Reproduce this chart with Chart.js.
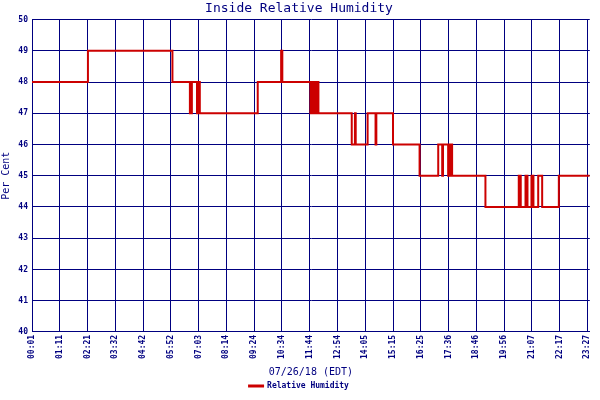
<!DOCTYPE html>
<html>
<head>
<script src="https://cdn.jsdelivr.net/npm/chart.js@4"></script>
<style>
body { margin: 0; background: #fff; }
</style>
</head>
<body>
<canvas id="humidity_chart" width="600" height="400"></canvas>
<script>
// minutes after midnight where the reading changes, and the reading from then on
const changeMinutes = [1, 142, 355, 399, 404, 417, 419, 424, 570, 627, 629, 632, 703, 708, 713, 718, 723,
    807, 815, 817, 847, 867, 869, 911, 978, 1025, 1035, 1037, 1050, 1055, 1060, 1144,
    1228, 1233, 1245, 1250, 1260, 1265, 1277, 1287, 1329, 1407]
const humidity = [48, 49, 48, 47, 48, 47, 48, 47, 48, 48, 49, 48, 47, 48, 47, 48, 47,
    46, 47, 46, 47, 46, 47, 46, 45, 46, 45, 46, 45, 46, 45, 44,
    45, 44, 45, 44, 45, 44, 45, 44, 45, 45]
const tickLabels = ['00:01', '01:11', '02:21', '03:32', '04:42', '05:52', '07:03', '08:14', '09:24', '10:34',
    '11:44', '12:54', '14:05', '15:15', '16:25', '17:36', '18:46', '19:56', '21:07', '22:17', '23:27']
const tickMinutes = [1, 71, 141, 211, 281, 351, 421, 491, 561, 631, 701, 771, 841, 911, 981, 1051, 1121, 1191, 1261, 1331, 1401]

const NAVY = '#000080'
const FONT = 'DejaVu Sans Mono'

const ctx = document.getElementById('humidity_chart')

new Chart(ctx, {
    type: 'line',
    data: {
        datasets: [{
            label: 'Relative Humidity',
            data: changeMinutes.map((m, i) => ({ x: m, y: humidity[i] })),
            borderColor: '#cc0000',
            backgroundColor: '#cc0000',
            borderWidth: 2,
            pointRadius: 0,
            stepped: 'before',
        }]
    },
    options: {
        responsive: false,
        animation: false,
        layout: { padding: { right: 2, top: 0 } },
        plugins: {
            title: {
                display: true,
                text: 'Inside Relative Humidity',
                color: NAVY,
                font: { family: FONT, size: 13, weight: 'normal' },
                padding: { top: 1, bottom: 3 },
            },
            legend: {
                position: 'bottom',
                labels: {
                    color: NAVY,
                    font: { family: FONT, size: 8, weight: 'bold' },
                    boxWidth: 14, boxHeight: 1,
                    padding: 2,
                },
            },
            tooltip: { enabled: false },
        },
        scales: {
            x: {
                type: 'linear',
                min: 1,
                max: 1407,
                afterBuildTicks: scale => {
                    scale.ticks = tickMinutes.map(v => ({ value: v }))
                },
                ticks: {
                    color: NAVY,
                    font: { family: FONT, size: 8, weight: 'bold' },
                    minRotation: 90, maxRotation: 90,
                    autoSkip: false,
                    padding: 3,
                    callback: (v, i) => tickLabels[i],
                },
                grid: { color: NAVY, lineWidth: 1, drawTicks: false },
                border: { color: NAVY, width: 1 },
                title: {
                    display: true,
                    text: '07/26/18 (EDT)',
                    color: NAVY,
                    font: { family: FONT, size: 10 },
                    padding: { top: 4, bottom: 2 },
                },
            },
            y: {
                min: 40,
                max: 50,
                afterFit: scale => { scale.width = 32 },
                ticks: {
                    stepSize: 1,
                    autoSkip: false,
                    color: NAVY,
                    font: { family: FONT, size: 8, weight: 'bold' },
                    padding: 4,
                },
                grid: { color: NAVY, lineWidth: 1, drawTicks: false },
                border: { color: NAVY, width: 1 },
                title: {
                    display: true,
                    text: 'Per Cent',
                    color: NAVY,
                    font: { family: FONT, size: 10 },
                    padding: 0,
                },
            },
        },
    },
})
</script>
</body>
</html>
